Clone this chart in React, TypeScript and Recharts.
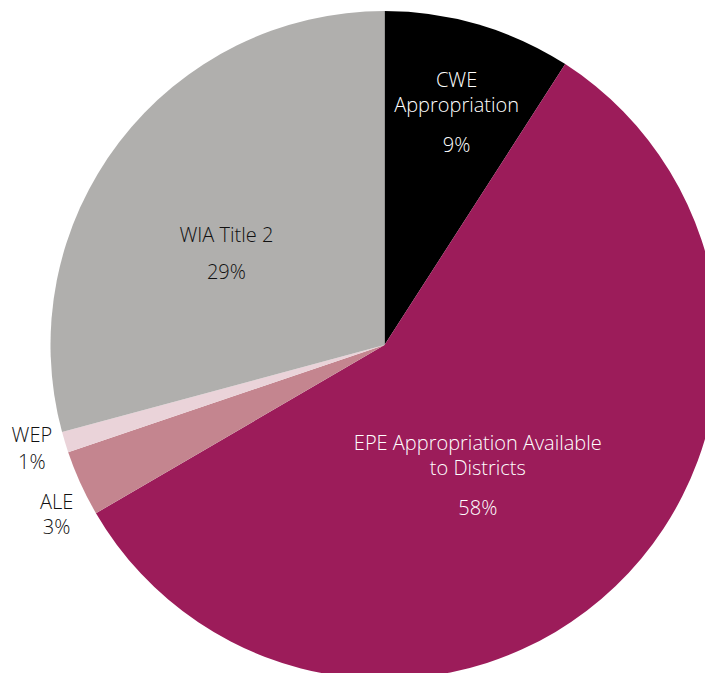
import React from "react";
import { PieChart, Pie, Cell } from "recharts";

const categories = ["CWE Appropriation", "EPE Appropriation Available to Districts", "ALE", "WEP", "WIA Title 2"];
const values = [9.1, 57.5, 3.2, 1.0, 29.2];
const nameLines = [["CWE", "Appropriation"], ["EPE Appropriation Available", "to Districts"], ["ALE"], ["WEP"], ["WIA Title 2"]];

const colors = ["#000000", "#9C1C5A", "#C4858F", "#EAD3D9", "#B0AFAD"];
const textColors = ["#FFFFFF", "#FFFFFF", "#111111", "#111111", "#111111"];
// label placement: radius factor and clockwise angle from 12 o'clock (degrees)
const labelLayout = [
  { r: 0.73, angle: 17.2, gap: 40, lineH: 25 },
  { r: 0.48, angle: 144.4, gap: 40, lineH: 25 },
  { r: 1.105, angle: 242.7, gap: 25, lineH: 25 },
  { r: 1.1, angle: 253.7, gap: 27, lineH: 25 },
  { r: 0.547, angle: 300.1, gap: 37, lineH: 25 },
];

const data = categories.map((name, i) => ({ name, value: values[i] }));
const FONT = "'Open Sans', sans-serif";

const renderLabel = (props: any) => {
  const { cx, cy, outerRadius, index, value } = props;
  const lay = labelLayout[index];
  const rad = (lay.angle * Math.PI) / 180;
  const r = outerRadius * lay.r;
  const x = cx + r * Math.sin(rad);
  const y = cy - r * Math.cos(rad);
  const lines = nameLines[index];
  const total = (lines.length - 1) * lay.lineH + lay.gap;
  const top = y - total / 2;
  const style = { fill: textColors[index], fontFamily: FONT, fontWeight: 300, fontSize: 20 };
  return (
    <g key={`lbl-${index}`}>
      {lines.map((ln, j) => (
        <text key={j} x={x} y={top + j * lay.lineH} textAnchor="middle" dominantBaseline="central" style={style}>{ln}</text>
      ))}
      <text x={x} y={top + (lines.length - 1) * lay.lineH + lay.gap} textAnchor="middle" dominantBaseline="central" style={style}>{`${Math.round(value)}%`}</text>
    </g>
  );
};

export default function App() {
  return (
    <div style={{ position: "absolute", left: 0, top: 0, width: 705, height: 673, background: "#fff" }}>
      <PieChart width={705} height={673} margin={{ top: 0, right: 0, bottom: 0, left: 0 }}>
        <Pie
          data={data}
          dataKey="value"
          nameKey="name"
          cx={384.5}
          cy={345}
          outerRadius={334}
          innerRadius={0}
          startAngle={90}
          endAngle={-270}
          stroke="none"
          labelLine={false}
          label={renderLabel}
          isAnimationActive={false}
        >
          {data.map((d, i) => (
            <Cell key={d.name} fill={colors[i]} stroke="none" />
          ))}
        </Pie>
      </PieChart>
    </div>
  );
}
